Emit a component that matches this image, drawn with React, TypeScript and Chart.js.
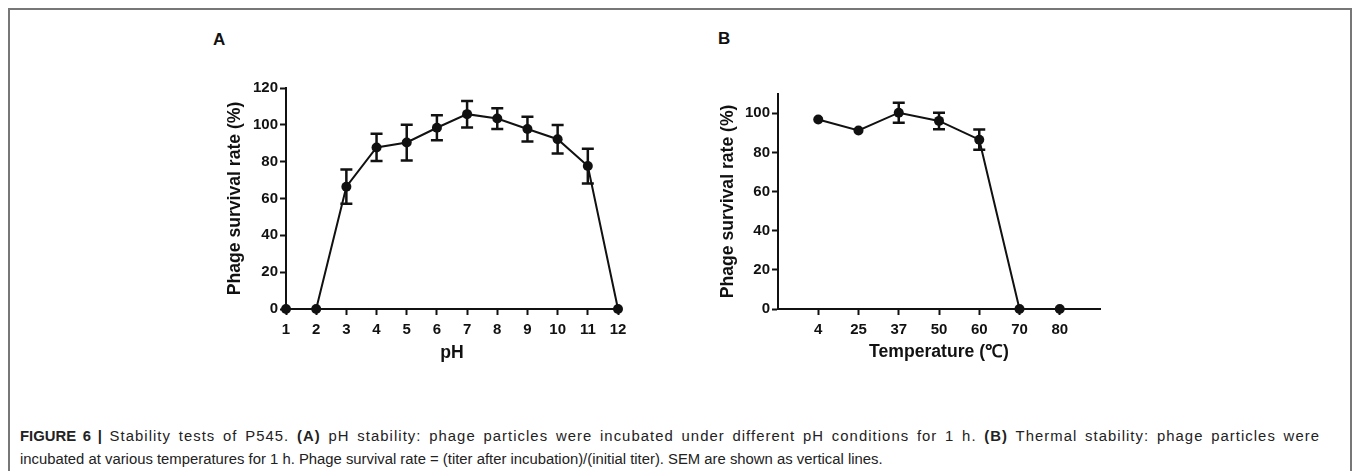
import React, { useEffect, useRef } from "react";
import { Chart, registerables } from "chart.js";

Chart.register(...registerables);

// Panel A: pH stability
const phValues = [1, 2, 3, 4, 5, 6, 7, 8, 9, 10, 11, 12];
const phSurvival = [0, 0, 66.4, 87.7, 90.4, 98.4, 105.8, 103.4, 97.7, 92.2, 77.6, 0];
const phSem = [0, 0, 9.3, 7.4, 9.7, 6.8, 7.2, 5.6, 6.7, 7.7, 9.4, 0];
const phYTicks = [0, 20, 40, 60, 80, 100, 120];

// Panel B: thermal stability
const tempLabels = ["4", "25", "37", "50", "60", "70", "80"];
const tempSurvival = [96.8, 91.2, 100.3, 96.1, 86.5, 0, 0];
const tempSem = [0, 0, 5.1, 4.2, 5.2, 0, 0];
const tempYTicks = [0, 20, 40, 60, 80, 100];

const FONT = "'Liberation Sans', Arial, Helvetica, sans-serif";
const INK = "#111";

const errorBarPlugin = {
  id: "errorBars",
  afterDatasetsDraw(chart: any) {
    const { ctx } = chart;
    chart.data.datasets.forEach((ds: any, i: number) => {
      const errs: number[] | undefined = ds.errors;
      if (!errs) return;
      const meta = chart.getDatasetMeta(i);
      const yScale = chart.scales[meta.yAxisID];
      ctx.save();
      ctx.strokeStyle = INK;
      ctx.lineWidth = 2.5;
      meta.data.forEach((pt: any, j: number) => {
        const e = errs[j];
        if (!e) return;
        const v = ds.data[j].y;
        const x = pt.x;
        const yTop = yScale.getPixelForValue(v + e);
        const yBot = yScale.getPixelForValue(v - e);
        ctx.beginPath();
        ctx.moveTo(x, yTop);
        ctx.lineTo(x, yBot);
        ctx.moveTo(x - 6, yTop);
        ctx.lineTo(x + 6, yTop);
        ctx.moveTo(x - 6, yBot);
        ctx.lineTo(x + 6, yBot);
        ctx.stroke();
      });
      ctx.restore();
    });
  },
};

const tickFont = { family: FONT, size: 15, weight: "bold" as const };
const titleFont = { family: FONT, size: 17.6, weight: "bold" as const };

function makeDataset(xs: number[], ys: number[], errs: number[]) {
  return {
    data: xs.map((x, i) => ({ x, y: ys[i] })),
    errors: errs,
    borderColor: INK,
    backgroundColor: INK,
    borderWidth: 2,
    pointRadius: 5,
    pointBackgroundColor: INK,
    pointBorderWidth: 0,
    tension: 0,
    clip: false as const,
  };
}

function PanelA() {
  const ref = useRef<HTMLCanvasElement>(null);
  useEffect(() => {
    const chart = new Chart(ref.current!, {
      type: "line",
      data: { datasets: [makeDataset(phValues, phSurvival, phSem) as any] },
      options: {
        animation: false,
        responsive: false,
        layout: { padding: { left: 0, right: 22, top: 18, bottom: 0 } },
        plugins: { legend: { display: false }, tooltip: { enabled: false } },
        scales: {
          x: {
            type: "linear",
            min: 1,
            max: 12,
            afterBuildTicks: (s: any) => {
              s.ticks = phValues.map((v) => ({ value: v }));
            },
            ticks: { color: INK, font: tickFont, padding: 6, maxRotation: 0, autoSkip: false },
            grid: { drawOnChartArea: false, drawTicks: true, tickLength: 6, tickWidth: 2, tickColor: INK },
            border: { display: true, color: INK, width: 2 },
            title: { display: true, text: "pH", color: INK, font: titleFont, padding: { top: 0, bottom: 6 } },
            afterFit: (s: any) => {
              s.height = 61;
            },
          },
          y: {
            type: "linear",
            min: 0,
            max: 120,
            afterBuildTicks: (s: any) => {
              s.ticks = phYTicks.map((v) => ({ value: v }));
            },
            ticks: { color: INK, font: tickFont, padding: 2 },
            grid: { drawOnChartArea: false, drawTicks: true, tickLength: 6, tickWidth: 2, tickColor: INK },
            border: { display: true, color: INK, width: 2 },
            title: {
              display: true,
              text: "Phage survival rate (%)",
              color: INK,
              font: titleFont,
              padding: { top: 44.4, bottom: 0 },
            },
            afterFit: (s: any) => {
              s.width = 106;
            },
          },
        },
      } as any,
      plugins: [errorBarPlugin],
    });
    return () => chart.destroy();
  }, []);
  return (
    <canvas
      ref={ref}
      width={460}
      height={300}
      style={{ position: "absolute", left: 180, top: 70, width: 460, height: 300 }}
    />
  );
}

function PanelB() {
  const ref = useRef<HTMLCanvasElement>(null);
  useEffect(() => {
    const idx = tempLabels.map((_, i) => i);
    const chart = new Chart(ref.current!, {
      type: "line",
      data: { datasets: [makeDataset(idx, tempSurvival, tempSem) as any] },
      options: {
        animation: false,
        responsive: false,
        layout: { padding: { left: 0, right: 20, top: 23.7, bottom: 0 } },
        plugins: { legend: { display: false }, tooltip: { enabled: false } },
        scales: {
          x: {
            type: "linear",
            min: -1,
            max: tempLabels.length,
            afterBuildTicks: (s: any) => {
              s.ticks = idx.map((v) => ({ value: v }));
            },
            ticks: {
              color: INK,
              font: tickFont,
              padding: 6,
              maxRotation: 0,
              autoSkip: false,
              callback: (v: any) => tempLabels[v] ?? "",
            },
            grid: { drawOnChartArea: false, drawTicks: true, tickLength: 6, tickWidth: 2, tickColor: INK },
            border: { display: true, color: INK, width: 2 },
            title: {
              display: true,
              text: "Temperature (\u2103)",
              color: INK,
              font: titleFont,
              padding: { top: 0, bottom: 7.5 },
            },
            afterFit: (s: any) => {
              s.height = 61;
            },
          },
          y: {
            type: "linear",
            min: 0,
            max: 110,
            afterBuildTicks: (s: any) => {
              s.ticks = tempYTicks.map((v) => ({ value: v }));
            },
            ticks: { color: INK, font: tickFont, padding: 2 },
            grid: { drawOnChartArea: false, drawTicks: true, tickLength: 6, tickWidth: 2, tickColor: INK },
            border: { display: true, color: INK, width: 2 },
            title: {
              display: true,
              text: "Phage survival rate (%)",
              color: INK,
              font: titleFont,
              padding: { top: 37.7, bottom: 0 },
            },
            afterFit: (s: any) => {
              s.width = 98;
            },
          },
        },
      } as any,
      plugins: [errorBarPlugin],
    });
    return () => chart.destroy();
  }, []);
  return (
    <canvas
      ref={ref}
      width={440}
      height={300}
      style={{ position: "absolute", left: 680, top: 70, width: 440, height: 300 }}
    />
  );
}

const captionStyle: React.CSSProperties = {
  position: "absolute",
  left: 20,
  fontFamily: "'Liberation Sans Narrow', 'Liberation Sans', Arial, sans-serif",
  fontSize: 14.85,
  lineHeight: "23px",
  color: "#222",
};

export default function App() {
  return (
    <div
      style={{
        position: "fixed",
        left: 0,
        top: 0,
        width: 1358,
        height: 471,
        background: "#fff",
        overflow: "hidden",
      }}
    >
      <div
        style={{
          position: "absolute",
          left: 8,
          top: 8,
          width: 1340,
          height: 500,
          border: "2px solid #777",
        }}
      />
      <div
        style={{
          position: "absolute",
          left: 213,
          top: 31,
          fontFamily: FONT,
          fontWeight: "bold",
          fontSize: 17,
          lineHeight: "17px",
          color: INK,
        }}
      >
        A
      </div>
      <div
        style={{
          position: "absolute",
          left: 718,
          top: 30,
          fontFamily: FONT,
          fontWeight: "bold",
          fontSize: 17,
          lineHeight: "17px",
          color: INK,
        }}
      >
        B
      </div>
      <PanelA />
      <PanelB />
      <div
        style={{
          ...captionStyle,
          top: 425,
          width: 1300,
          letterSpacing: "1.05px",
          textAlign: "justify",
          textAlignLast: "justify",
        }}
      >
        <b style={{ letterSpacing: 0 }}>FIGURE 6 |</b> Stability tests of P545. <b>(A)</b> pH stability: phage
        particles were incubated under different pH conditions for 1 h. <b>(B)</b> Thermal stability: phage particles
        were
      </div>
      <div style={{ ...captionStyle, top: 448, whiteSpace: "nowrap" }}>
        incubated at various temperatures for 1 h. Phage survival rate = (titer after incubation)/(initial titer).
        SEM are shown as vertical lines.
      </div>
    </div>
  );
}
